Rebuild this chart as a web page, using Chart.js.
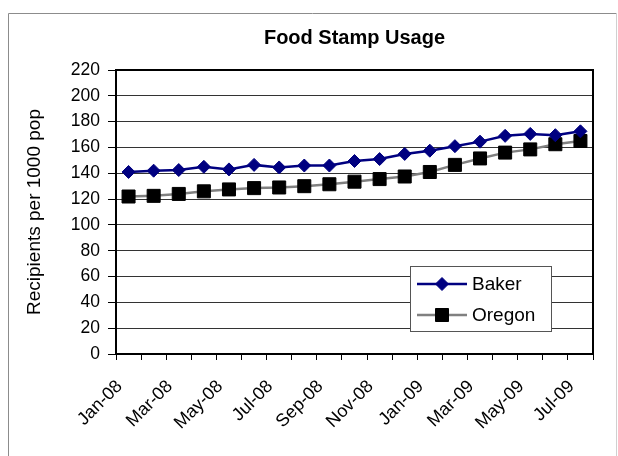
<!DOCTYPE html>
<html>
<head>
<meta charset="utf-8">
<script src="https://cdn.jsdelivr.net/npm/chart.js@4.4.0/dist/chart.umd.min.js"></script>
<style>
html,body{margin:0;padding:0;background:#fff;}
#wrap{width:618px;height:456px;position:relative;}
</style>
</head>
<body>
<div id="wrap"><canvas id="c" width="618" height="456"></canvas></div>
<script>
const months = ["Jan-08","Feb-08","Mar-08","Apr-08","May-08","Jun-08","Jul-08","Aug-08","Sep-08","Oct-08","Nov-08","Dec-08","Jan-09","Feb-09","Mar-09","Apr-09","May-09","Jun-09","Jul-09"];
const bakerValues = [141, 142, 142.5, 145, 143, 146.5, 144.5, 146, 146, 149.5, 151, 155, 157.5, 161, 164.5, 169, 170.5, 169.5, 172.5];
const oregonValues = [122, 122.5, 124, 126, 127.5, 128.5, 129, 130, 131.5, 133.5, 135.5, 137.5, 141, 146.5, 151.5, 156, 158.5, 162.5, 165];
const seriesNames = ["Baker", "Oregon"];
const chartTitle = "Food Stamp Usage";
const yTitle = "Recipients per 1000 pop";
const yMin = 0, yMax = 220, yStep = 20;

const FONT = "'Liberation Sans', Arial, sans-serif";

const framePlugin = {
  id: 'frame',
  beforeDraw(chart) {
    const ctx = chart.ctx;
    ctx.save();
    ctx.fillStyle = '#fff';
    ctx.fillRect(0, 0, chart.width, chart.height);
    ctx.lineWidth = 1;
    ctx.strokeStyle = '#8c8c8c';
    ctx.beginPath();
    ctx.moveTo(8.5, 470);
    ctx.lineTo(8.5, 13.5);
    ctx.lineTo(616.5, 13.5);
    ctx.stroke();
    ctx.strokeStyle = '#d0d0d0';
    ctx.beginPath();
    ctx.moveTo(616.5, 13.5);
    ctx.lineTo(616.5, 470);
    ctx.stroke();
    ctx.restore();
  },
  afterDatasetsDraw(chart) {
    const ctx = chart.ctx;
    const a = chart.chartArea;
    ctx.save();
    ctx.strokeStyle = '#000';
    ctx.lineWidth = 2;
    ctx.strokeRect(a.left, a.top, a.right - a.left, a.bottom - a.top);
    const lx = a.right - 183, ly = a.top + 196, lw = 141, lh = 65;
    ctx.fillStyle = '#fff';
    ctx.fillRect(lx, ly, lw, lh);
    ctx.strokeStyle = '#555';
    ctx.lineWidth = 1;
    ctx.strokeRect(lx + 0.5, ly + 0.5, lw, lh);
    chart.data.datasets.forEach((ds, i) => {
      const cy = ly + 18 + i * 31;
      ctx.strokeStyle = ds.borderColor;
      ctx.lineWidth = ds.borderWidth;
      ctx.beginPath();
      ctx.moveTo(lx + 7, cy);
      ctx.lineTo(lx + 57, cy);
      ctx.stroke();
      const mx = lx + 32;
      ctx.fillStyle = ds.pointBackgroundColor;
      ctx.strokeStyle = ds.pointBorderColor;
      ctx.lineWidth = 1;
      ctx.beginPath();
      if (ds.pointStyle === 'rectRot') {
        const r = 6.5;
        ctx.moveTo(mx - r, cy); ctx.lineTo(mx, cy - r); ctx.lineTo(mx + r, cy); ctx.lineTo(mx, cy + r);
      } else {
        const s = 6.5;
        ctx.rect(mx - s, cy - s, 2 * s, 2 * s);
      }
      ctx.closePath();
      ctx.fill();
      ctx.stroke();
      ctx.fillStyle = '#000';
      ctx.font = '19px ' + FONT;
      ctx.textBaseline = 'middle';
      ctx.textAlign = 'left';
      ctx.fillText(ds.label, lx + 62, cy + 1);
    });
    ctx.restore();
  }
};

new Chart(document.getElementById('c'), {
  type: 'line',
  data: {
    labels: months,
    datasets: [
      {
        label: seriesNames[0],
        data: bakerValues,
        borderColor: '#000080',
        borderWidth: 2.5,
        pointStyle: 'rectRot',
        pointRadius: 6.5,
        pointHoverRadius: 6.5,
        pointBackgroundColor: '#000080',
        pointBorderColor: '#000080',
        pointBorderWidth: 1,
        tension: 0,
        fill: false
      },
      {
        label: seriesNames[1],
        data: oregonValues,
        borderColor: '#808080',
        borderWidth: 2.5,
        pointStyle: 'rect',
        pointRadius: 9.2,
        pointHoverRadius: 9.2,
        pointBackgroundColor: '#000',
        pointBorderColor: '#000',
        pointBorderWidth: 1,
        tension: 0,
        fill: false
      }
    ]
  },
  options: {
    responsive: false,
    animation: false,
    devicePixelRatio: 1,
    layout: { padding: { left: 0, right: 25, top: 0, bottom: 0 } },
    plugins: {
      legend: { display: false },
      tooltip: { enabled: false },
      title: {
        display: true,
        text: chartTitle,
        fullSize: false,
        color: '#000',
        font: { family: FONT, size: 20, weight: 'bold', lineHeight: 1.2 },
        padding: { top: 26, bottom: 20 }
      }
    },
    scales: {
      x: {
        type: 'category',
        offset: true,
        afterFit(s) { s.height = 102; },
        grid: {
          offset: true,
          drawOnChartArea: false,
          drawTicks: true,
          tickLength: 6,
          tickColor: '#000',
          tickWidth: 1
        },
        border: { display: true, color: '#000', width: 2 },
        ticks: {
          autoSkip: false,
          maxRotation: 45,
          minRotation: 45,
          padding: 16,
          labelOffset: -9,
          color: '#000',
          font: { family: FONT, size: 18 },
          callback(v, i) { return i % 2 === 0 ? months[i] : ''; }
        }
      },
      y: {
        min: yMin,
        max: yMax,
        afterFit(s) { s.width = 116; },
        grid: {
          color: '#333',
          lineWidth: 1,
          drawTicks: true,
          tickLength: 8,
          tickColor: '#000'
        },
        border: { display: true, color: '#000', width: 2 },
        ticks: {
          stepSize: yStep,
          padding: 8,
          color: '#000',
          font: { family: FONT, size: 17.5 }
        },
        title: {
          display: true,
          text: yTitle,
          color: '#000',
          font: { family: FONT, size: 19 },
          padding: { top: 23, bottom: 0 }
        }
      }
    }
  },
  plugins: [framePlugin]
});
</script>
</body>
</html>
